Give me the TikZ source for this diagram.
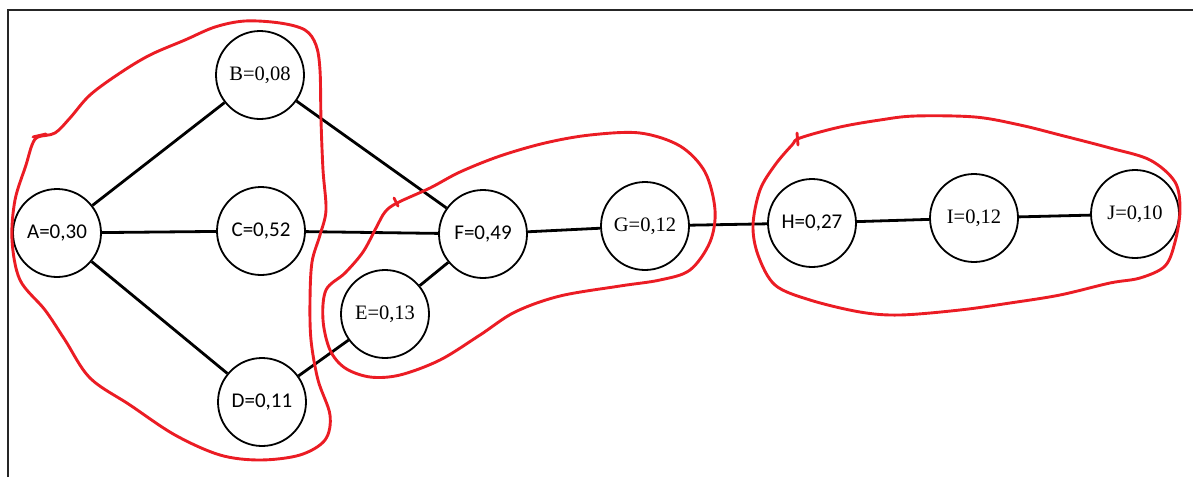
\documentclass[tikz,border=0pt]{standalone}
\usepackage{fontspec}
\setmainfont{Liberation Serif}
\newfontfamily\calfont{Carlito}
\definecolor{penred}{RGB}{235,28,36}
\begin{document}
\begin{tikzpicture}[x=1pt,y=-1pt,
  vtx/.style={circle,draw=black,line width=1.8pt,minimum size=88pt,inner sep=0pt,font=\fontsize{20.5}{24}\selectfont},
  svtx/.style={vtx,font=\calfont\fontsize{21}{24}\selectfont},
  link/.style={line width=2.8pt,black},
  lasso/.style={penred,line width=2.9pt,line join=round,line cap=round}]
\useasboundingbox (0,0) rectangle (1193,477);
% frame
\draw[line width=1.4pt,black!85] (8,477) -- (8,10) -- (1193,10);

% vertices
\node[svtx] (A) at (57,233) {A=0,30};
\node[vtx]  (B) at (260,75) {B=0,08};
\node[svtx] (C) at (261,231) {C=0,52};
\node[svtx] (D) at (262,402) {D=0,11};
\node[vtx]  (E) at (385,314) {E=0,13};
\node[svtx] (F) at (483,234) {F=0,49};
\node[vtx]  (G) at (645,226) {G=0,12};
\node[svtx] (H) at (812,223) {H=0,27};
\node[vtx]  (I) at (974,218) {I=0,12};
\node[vtx]  (J) at (1135,214) {J=0,10};

% edges
\draw[link] (A) -- (B);
\draw[link] (A) -- (C);
\draw[link] (A) -- (D);
\draw[link] (B) -- (F);
\draw[link] (C) -- (F);
\draw[link] (E) -- (F);
\draw[link] (D) -- (E);
\draw[link] (F) -- (G);
\draw[link] (G) -- (H);
\draw[link] (H) -- (I);
\draw[link] (I) -- (J);

% hand-drawn groupings
\draw[lasso] plot[smooth cycle,tension=0.55] coordinates {
  (38,137) (55,133) (70,118) (90,95) (120,73) (150,55) (185,40) (215,27)
  (245,21) (280,23) (305,30) (316,45) (320,70) (321,120) (323,170) (326,210)
  (320,235) (312,262) (310,300) (311,340) (318,380) (330,415) (325,440)
  (300,455) (260,460) (220,455) (175,435) (130,405) (90,378) (65,340)
  (45,310) (20,280) (12,240) (15,200) (26,165) (32,145)};
\draw[lasso] (33,137) -- (46,134);

\draw[lasso] plot[smooth cycle,tension=0.55] coordinates {
  (397,203) (385,212) (376,228) (363,252) (345,273) (326,290) (323,320)
  (330,350) (345,368) (370,377) (400,375) (440,360) (480,335) (515,312)
  (560,296) (620,286) (660,280) (690,270) (710,242) (715,210) (705,172)
  (680,146) (640,133) (590,135) (545,143) (500,156) (460,172) (430,188)};
\draw[lasso] (394,198) -- (398,206);

\draw[lasso] plot[smooth cycle,tension=0.55] coordinates {
  (800,138) (840,127) (880,120) (915,116) (975,117) (1020,125) (1060,135)
  (1110,148) (1150,160) (1175,182) (1180,210) (1175,242) (1165,266)
  (1140,278) (1110,283) (1060,295) (1010,303) (960,310) (900,315)
  (860,312) (810,300) (775,285) (758,255) (753,225) (760,190) (775,165)
  (792,145)};
\draw[lasso] (797,133) -- (798,145);
\end{tikzpicture}
\end{document}
